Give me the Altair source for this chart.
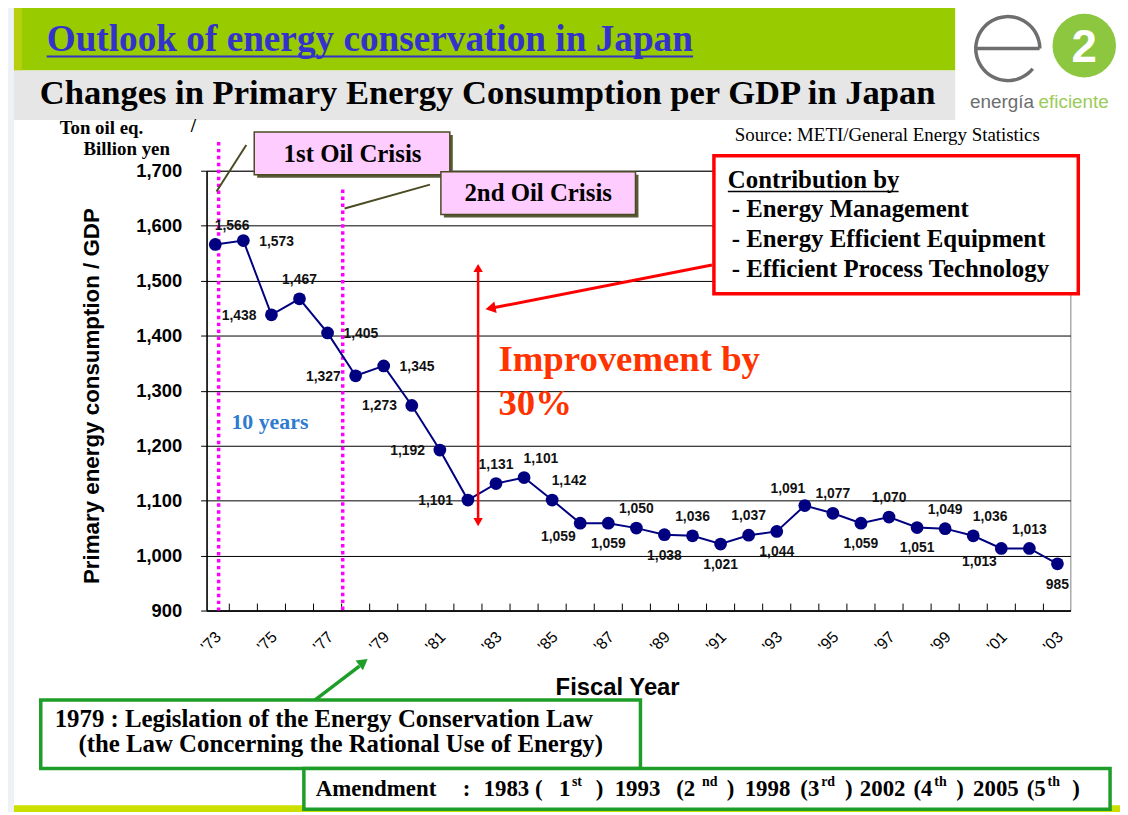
import altair as alt
import pandas as pd

# ---------------- data ----------------
years = list(range(1973, 2004))
values = [1566, 1573, 1438, 1467, 1405, 1327, 1345, 1273, 1192, 1101,
          1131, 1142, 1101, 1059, 1059, 1050, 1038, 1036, 1021, 1037,
          1044, 1091, 1077, 1059, 1070, 1051, 1049, 1036, 1013, 1013, 985]
labels = ["1,566", "1,573", "1,438", "1,467", "1,405", "1,327", "1,345", "1,273", "1,192", "1,101",
          "1,131", "1,101", "1,142", "1,059", "1,059", "1,050", "1,038", "1,036", "1,021", "1,037",
          "1,044", "1,091", "1,077", "1,059", "1,070", "1,051", "1,049", "1,036", "1,013", "1,013", "985"]
label_pos = ["NE", "E", "W", "N", "E", "W", "E", "W", "W", "W",
             "N", "NE", "NE", "SW", "S", "N", "S", "N", "S", "N",
             "S", "NW", "N", "S", "N", "S", "N", "NE", "SW", "N", "S"]
label_years = [1973, 1975, 1977, 1979, 1981, 1983, 1985, 1987, 1989, 1991,
               1993, 1995, 1997, 1999, 2001, 2003]
y_ticks = [900, 1000, 1100, 1200, 1300, 1400, 1500, 1600, 1700]
minor_ticks = [y + 0.5 for y in range(1973, 2003)]
crisis_years = [1973.12, 1977.54]

SERIF = "Liberation Serif"
SANS = "Liberation Sans"
W, H = 870, 443
OX, OY = 208, 169  # page position of the plot origin

main = pd.DataFrame({"year": years, "value": values, "label": labels, "pos": label_pos})
one = alt.Chart(pd.DataFrame({"k": [0]}))

xscale = alt.Scale(domain=[1972.69, 2003.46], nice=False, zero=False)
yscale = alt.Scale(domain=[900, 1700], nice=False, zero=False)
xaxis = alt.Axis(values=label_years, labelExpr="\"'\" + substring(toString(datum.value), 2, 4)",
                 labelAngle=315, labelFont=SANS, labelFontSize=16, labelColor="black",
                 ticks=False, grid=False, domainColor="black", domainWidth=1.5,
                 labelPadding=18, labelOffset=-3, title=None)
yaxis = alt.Axis(values=y_ticks, format=",d", labelFont=SANS, labelFontSize=18.5,
                 labelFontWeight="bold", labelColor="black", gridColor="black",
                 gridWidth=1, gridOpacity=1, tickColor="black", tickSize=6,
                 domainColor="black", domainWidth=1.5, labelPadding=19, title=None)


def X(field):
    return alt.X(field + ":Q", scale=xscale, axis=xaxis)


def Y(field):
    return alt.Y(field + ":Q", scale=yscale, axis=yaxis)


def px(v):
    return v - OX


def py(v):
    return v - OY


def rect(x1, y1, x2, y2, fill, stroke=None, sw=0):
    kw = dict(fill=fill, strokeWidth=sw)
    if stroke:
        kw["stroke"] = stroke
    return one.mark_rect(**kw).encode(x=alt.value(px(x1)), x2=alt.value(px(x2)),
                                      y=alt.value(py(y1)), y2=alt.value(py(y2)))


def text(x, y, s, size, font=SERIF, weight="bold", color="black", align="left",
         baseline="middle", angle=0):
    return one.mark_text(text=s, fontSize=size, font=font, fontWeight=weight, color=color,
                         align=align, baseline=baseline, angle=angle).encode(
        x=alt.value(px(x)), y=alt.value(py(y)))


def seg(x1, y1, x2, y2, color, w, dash=None):
    kw = dict(color=color, strokeWidth=w)
    if dash:
        kw["strokeDash"] = dash
    return one.mark_rule(**kw).encode(x=alt.value(px(x1)), x2=alt.value(px(x2)),
                                      y=alt.value(py(y1)), y2=alt.value(py(y2)))


def head(x, y, shape, angle, color, size):
    return one.mark_point(shape=shape, filled=True, color=color, size=size, angle=angle,
                          opacity=1).encode(x=alt.value(px(x)), y=alt.value(py(y)))


layers = []

# ---------- page decoration ----------
layers += [
    rect(0, 0, 14, 815, "#EEF1F5"),
    rect(14, 3, 962, 68, "#99CC00"),
    rect(14, 3, 22, 68, "#B8CF10"),
    rect(962, 0, 1128, 3, "#99CC00"),
    rect(14, 68, 962, 118, "#E6E6E6"),
    rect(14, 808, 1128, 815, "#CCE000"),
    text(47, 37, "Outlook of energy conservation in Japan", 37.5, color="#3333CC"),
    seg(47, 54, 698, 54, "#3333CC", 2),
    text(40, 92, "Changes in Primary Energy Consumption per GDP in Japan", 34.8),
    # logo
    one.mark_arc(radius=34, radius2=30.5, theta=2.25, theta2=7.85, color="#6D6E70").encode(
        x=alt.value(px(1015)), y=alt.value(py(46))),
    seg(984, 46, 1047, 46, "#6D6E70", 3.5),
    one.mark_arc(radius=32, radius2=0, theta=0, theta2=6.2832, color="#8DC63F").encode(
        x=alt.value(px(1092)), y=alt.value(py(43))),
    text(1092, 45, "2", 46, font=SANS, color="white", align="center"),
    text(977, 100, "energía", 19, font=SANS, weight="normal", color="#6D6E70"),
    text(1046, 100, "eficiente", 19, font=SANS, weight="normal", color="#9CCB5A"),
    # unit & source
    text(60, 126, "Ton oil eq.", 19),
    text(192, 124, "/", 19),
    text(84, 147, "Billion yen", 19),
    text(740, 133, "Source: METI/General Energy Statistics", 19, weight="normal"),
    text(93, 396, "Primary energy consumption / GDP", 22.5, font=SANS, align="center", angle=270),
    text(622, 690, "Fiscal Year", 24, font=SANS, align="center"),
]

# ---------- inward x ticks ----------
layers.append(
    alt.Chart(pd.DataFrame({"t": minor_ticks})).mark_rule(color="black", strokeWidth=1).encode(
        x=X("t"), y=alt.value(H), y2=alt.value(H - 7))
)

# ---------- oil crisis dotted lines ----------
crisis = pd.DataFrame({"cx": crisis_years, "idx": [0, 1]})
for i, top in enumerate([140, 188]):
    layers.append(
        alt.Chart(crisis).transform_filter(alt.datum.idx == i)
        .mark_rule(color="#FF00FF", strokeWidth=3.5, strokeDash=[3.5, 3.5])
        .encode(x=X("cx"), y=alt.value(py(top)), y2=alt.value(H))
    )

# ---------- series ----------
layers.append(alt.Chart(main).mark_line(color="#000080", strokeWidth=2).encode(x=X("year"), y=Y("value")))
layers.append(alt.Chart(main).mark_circle(color="#000080", size=165, opacity=1).encode(x=X("year"), y=Y("value")))

offsets = {
    "N": (0, -19, "center"),
    "S": (0, 21, "center"),
    "E": (16, 1, "left"),
    "W": (-15, 1, "right"),
    "NE": (17, -19, "center"),
    "NW": (-17, -17, "center"),
    "SW": (-22, 14, "center"),
}
for p, (dx, dy, al) in offsets.items():
    layers.append(
        alt.Chart(main).transform_filter(alt.datum.pos == p)
        .mark_text(dx=dx, dy=dy, align=al, baseline="middle", font=SANS, fontSize=14,
                   fontWeight="bold", color="#111111")
        .encode(x=X("year"), y=Y("value"), text="label:N")
    )

# ---------- annotations ----------
layers += [
    text(233, 422, "10 years", 22, color="#2E7BCF"),
    seg(218, 190, 248, 143, "#4B4B23", 2),
    seg(347, 207, 433, 183, "#4B4B23", 2),
    rect(259, 133, 456, 176, "#5A5A3A"),
    rect(256, 130, 453, 173, "#FFCCFF", "#4B4B23", 1.5),
    text(355, 152, "1st Oil Crisis", 25, align="center"),
    rect(447, 173, 643, 216, "#5A5A3A"),
    rect(444, 170, 640, 213, "#FFCCFF", "#4B4B23", 1.5),
    text(542, 191, "2nd Oil Crisis", 25, align="center"),
    # red arrows
    seg(481.5, 268, 481.5, 522, "#FF0000", 2.5),
    head(481.5, 267, "triangle-up", 0, "#FF0000", 90),
    head(481.5, 523, "triangle-down", 0, "#FF0000", 90),
    seg(717, 264, 497, 307, "#FF0000", 3),
    head(494, 307.5, "triangle-left", 349, "#FF0000", 140),
    text(502, 360, "Improvement by", 37, color="#FF3300"),
    text(502, 404, "30%", 37, color="#FF3300"),
    # contribution box
    rect(719, 154, 1086, 293, "white", "#FF0000", 3.5),
    text(733, 178, "Contribution by", 25),
    seg(733, 190, 905, 190, "black", 1.5),
    text(737, 208, "- Energy Management", 25),
    text(737, 238, "- Energy Efficient Equipment", 25),
    text(737, 268, "- Efficient Process Technology", 25),
    # law boxes
    seg(316, 703, 362, 668, "#1E9E28", 3.5),
    head(366, 664, "triangle-right", 323, "#1E9E28", 150),
    rect(41, 702, 645, 771, "white", "#1E9E28", 3.5),
    text(55, 721, "1979 : Legislation of the Energy Conservation Law", 25),
    text(79, 746, "(the Law Concerning the Rational Use of Energy)", 25),
    rect(306, 771, 1118, 812, "white", "#1E9E28", 3.5),
]

amend = [
    ("Amendment", 318, False), (":", 466, False), ("1983 (", 487, False), ("1", 563, False),
    ("st", 576, True), (")", 600, False),
    ("1993", 619, False), ("(2", 681, False), ("nd", 707, True), (")", 732, False),
    ("1998", 750, False), ("(3", 806, False), ("rd", 827, True), (")", 851, False),
    ("2002", 866, False), ("(4", 920, False), ("th", 941, True), (")", 963, False),
    ("2005", 980, False), ("(5", 1034, False), ("th", 1055, True), (")", 1080, False),
]
for s, xx, sup in amend:
    if sup:
        layers.append(text(xx, 785, s, 14))
    else:
        layers.append(text(xx, 792, s, 23))

chart = alt.layer(*layers).properties(
    width=W, height=H,
    autosize=alt.AutoSizeParams(type="none"),
    padding={"left": 200, "top": 161, "right": 50, "bottom": 203},
    background="white",
).configure_view(stroke="#808080", strokeWidth=1)

chart.save("out.html", embed_options={"renderer": "svg", "actions": False})
